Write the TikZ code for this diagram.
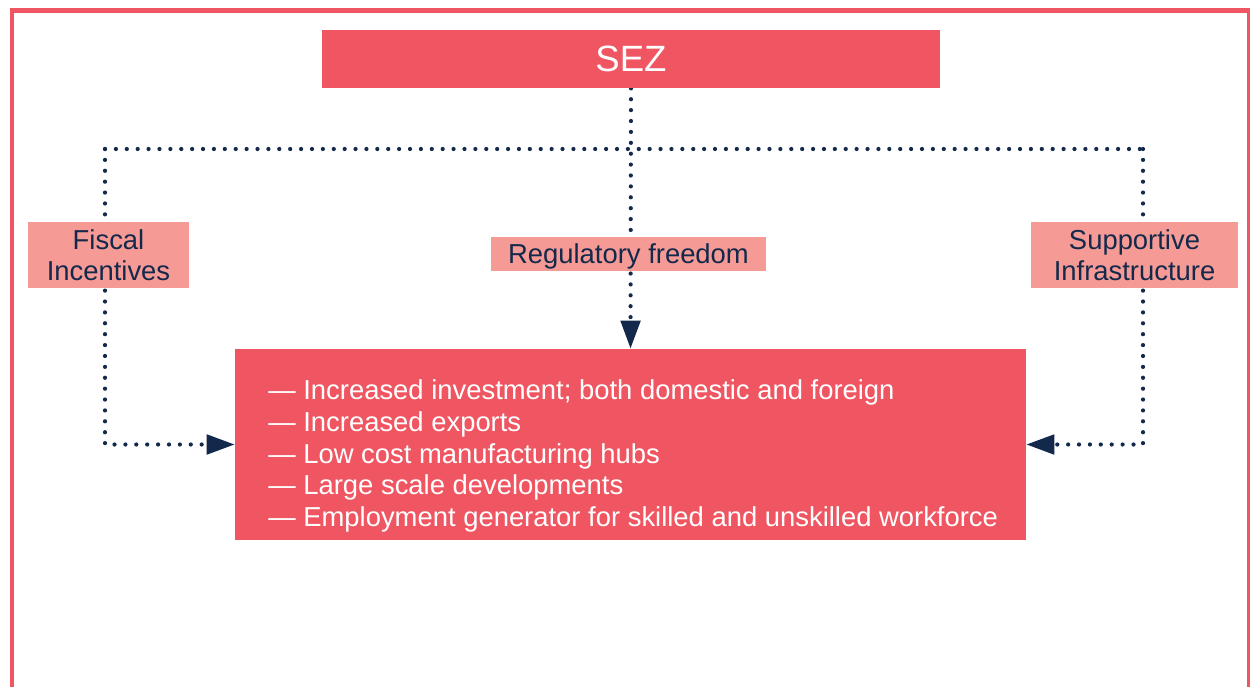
\documentclass[tikz,border=0pt]{standalone}
\usepackage{fontspec}
\setmainfont{Liberation Sans}
\usepackage{tikz}
\usetikzlibrary{arrows.meta, positioning, backgrounds}
\definecolor{sezred}{HTML}{F05562}
\definecolor{sezpink}{HTML}{F59A95}
\definecolor{seznavy}{HTML}{13294B}

\begin{document}
\begin{tikzpicture}[
    x=0.02cm, y=-0.02cm,
    headbox/.style={rectangle, fill=sezred, text=white, minimum width=12.36cm,
                    minimum height=1.16cm, inner sep=0pt, font=\fontsize{20.8}{25}\selectfont},
    driver/.style={rectangle, fill=sezpink, text=seznavy, inner sep=0pt, align=center,
                   font=\fontsize{15.6}{17.6}\selectfont},
    resultbox/.style={rectangle, fill=sezred, minimum width=15.82cm, minimum height=3.82cm, inner sep=0pt},
    dotline/.style={draw=seznavy, line width=2.4pt, line cap=round, dash pattern=on 0pt off 6.2pt},
    arr/.style={-{Triangle[length=16pt, width=11pt]}}
]
    \useasboundingbox (0,0) rectangle (1250,686);
    % frame, open at the bottom
    \draw[sezred, line width=2.8pt] (12,690) -- (12,10.5) -- (1249.5,10.5) -- (1249.5,690);

    \node[headbox] (sez) at (631,59) {SEZ};
    \node[driver, minimum width=3.22cm, minimum height=1.32cm] (fiscal) at (108.5,255) {Fiscal\\Incentives};
    \node[driver, minimum width=5.5cm, minimum height=0.68cm, text depth=0pt] (regul) at (628.5,254) {Regulatory freedom};
    \node[driver, minimum width=4.14cm, minimum height=1.32cm] (infra) at (1134.5,255) {Supportive\\Infrastructure};
    \node[resultbox] (outcome) at (630.5,444.5) {};
    \node[anchor=west, text=white, align=left, inner sep=0pt,
          font=\fontsize{15.6}{18.1}\selectfont] (outlist) at (268,456) {%
        --- Increased investment; both domestic and foreign\\
        --- Increased exports\\
        --- Low cost manufacturing hubs\\
        --- Large scale developments\\
        --- Employment generator for skilled and unskilled workforce};

    \coordinate (busL) at (105,149);
    \coordinate (busR) at (1143,149);

    \begin{scope}[on background layer]
        \draw[dotline] (busL) -- (busR);
        \draw[dotline, arr] (sez.south) -- (outcome.north);
        \draw[dotline, arr] (busL) |- (outcome.west);
        \draw[dotline, arr] (busR) |- (outcome.east);
    \end{scope}
\end{tikzpicture}
\end{document}
